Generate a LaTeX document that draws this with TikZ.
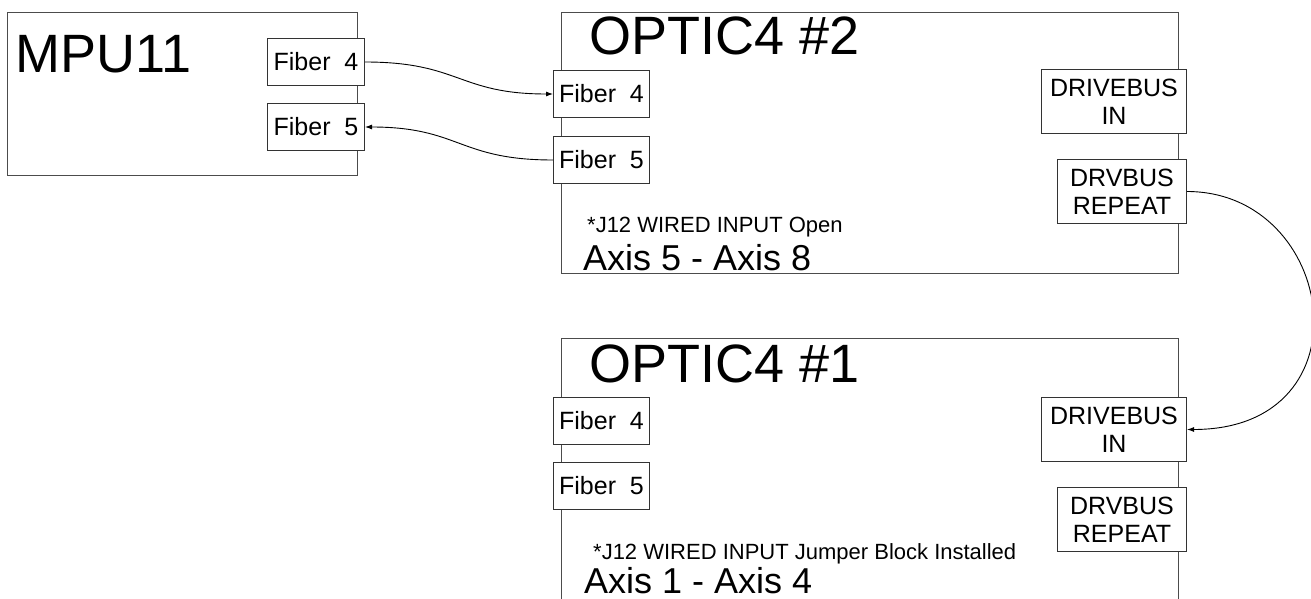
\documentclass[tikz,border=0pt]{standalone}
\usepackage{fontspec}
\setmainfont{Liberation Sans}
\usetikzlibrary{arrows.meta}
\begin{document}
\begin{tikzpicture}[x=1pt,y=-1pt,
  bigbox/.style={draw=black!70, line width=1.2pt, inner sep=0pt, anchor=north west},
  port/.style={draw=black!80, line width=1pt, fill=white, inner sep=0pt, anchor=north west,
               font=\fontsize{25}{28}\selectfont, align=center},
  title/.style={anchor=base west, inner sep=0pt, font=\fontsize{54}{60}\selectfont},
  note/.style={anchor=base west, inner sep=0pt, font=\fontsize{22}{26}\selectfont},
  axislbl/.style={anchor=base west, inner sep=0pt, font=\fontsize{36}{40}\selectfont},
  wire/.style={draw=black, line width=0.9pt, -{Latex[length=7pt,width=5pt]}}]
\path[use as bounding box] (0,0) rectangle (1311,599);
\clip (0,0) rectangle (1311,599);
\fill[white] (0,0) rectangle (1311,599);

% main boxes
\node[bigbox, minimum width=350pt, minimum height=163pt] (mpu) at (7,12) {};
\node[bigbox, minimum width=617pt, minimum height=261pt] (opt2) at (561,12) {};
\node[bigbox, minimum width=617pt, minimum height=300pt] (opt1) at (561,338) {};

% titles and notes
\node[title] (mputitle) at (15,73) {MPU11};
\node[title] (opt2title) at (589,55) {OPTIC4 \#2};
\node[title] (opt1title) at (589,382) {OPTIC4 \#1};
\node[note] (opt2note) at (587,232) {*J12 WIRED INPUT Open};
\node[axislbl] (opt2axis) at (583,270) {Axis 5 - Axis 8};
\node[note] (opt1note) at (593,559) {*J12 WIRED INPUT Jumper Block Installed};
\node[axislbl] (opt1axis) at (584,593) {Axis 1 - Axis 4};

% ports
\node[port, minimum width=97pt, minimum height=47pt] (mf4) at (267,38) {Fiber\ \ 4};
\node[port, minimum width=97pt, minimum height=47pt] (mf5) at (267,103) {Fiber\ \ 5};
\node[port, minimum width=96pt, minimum height=47pt] (o2f4) at (553,70) {Fiber\ \ 4};
\node[port, minimum width=96pt, minimum height=47pt] (o2f5) at (553,136) {Fiber\ \ 5};
\node[port, minimum width=145pt, minimum height=64pt] (o2in) at (1041,69) {DRIVEBUS\\IN};
\node[port, minimum width=129pt, minimum height=64pt] (o2rep) at (1057,159) {DRVBUS\\REPEAT};
\node[port, minimum width=96pt, minimum height=47pt] (o1f4) at (553,397) {Fiber\ \ 4};
\node[port, minimum width=96pt, minimum height=47pt] (o1f5) at (553,462) {Fiber\ \ 5};
\node[port, minimum width=145pt, minimum height=64pt] (o1in) at (1041,397) {DRIVEBUS\\IN};
\node[port, minimum width=129pt, minimum height=64pt] (o1rep) at (1057,487) {DRVBUS\\REPEAT};

% connectors
\draw[wire] (mf4.east) .. controls +(95,0) and +(-95,0) .. (o2f4.west);
\draw[wire] (o2f5.west) .. controls +(-95,0) and +(95,0) .. (mf5.east);
\draw[wire] (o2rep.east) .. controls +(150,0) and +(185,0) .. (o1in.east);
\end{tikzpicture}
\end{document}
